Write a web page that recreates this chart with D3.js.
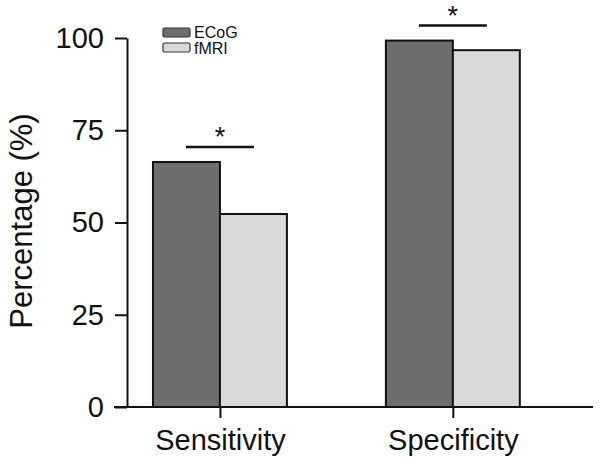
<!DOCTYPE html>
<html><head><meta charset="utf-8">
<script src="https://cdn.jsdelivr.net/npm/d3@7"></script>
<style>body{margin:0;background:#fff}svg{display:block}text{font-family:"Liberation Sans",Arial,sans-serif;fill:#111}</style>
</head><body>
<svg id="c" width="602" height="468"></svg>
<script>
const categories = ["Sensitivity", "Specificity"];
const seriesNames = ["ECoG", "fMRI"];
const ecogValues = [66.4, 99.3];
const fmriValues = [52.3, 96.7];
const yTicks = [0, 25, 50, 75, 100];
const sigMarks = ["*", "*"];

const colors = {ECoG: "#6e6e6e", fMRI: "#d9d9d9"};
const svg = d3.select("#c");

const y = d3.scaleLinear().domain([0, 100]).range([407, 38]);
const x0 = d3.scaleBand().domain(categories).range([106.4, 566.4]).paddingInner(0.425).paddingOuter(0.2);
const x1 = d3.scaleBand().domain(seriesNames).range([0, x0.bandwidth()]);

const data = categories.map((c, i) => ({cat: c, vals: [{s: "ECoG", v: ecogValues[i]}, {s: "fMRI", v: fmriValues[i]}]}));

// bars
const g = svg.append("g");
data.forEach(d => {
  g.selectAll(null).data(d.vals).enter().append("rect")
    .attr("x", e => x0(d.cat) + x1(e.s))
    .attr("y", e => y(e.v))
    .attr("width", x1.bandwidth())
    .attr("height", e => y(0) - y(e.v))
    .attr("fill", e => colors[e.s])
    .attr("stroke", "#111").attr("stroke-width", 2);
});

// y axis
const yAxis = d3.axisLeft(y).tickValues(yTicks).tickSize(12).tickPadding(11).tickSizeOuter(0);
const ya = svg.append("g").attr("transform", "translate(127,0)").call(yAxis);
ya.select(".domain").attr("stroke", "#111").attr("stroke-width", 2);
ya.selectAll(".tick line").attr("stroke", "#111").attr("stroke-width", 2);
ya.selectAll(".tick text").attr("font-size", 29).attr("fill", "#111").attr("font-family", '"Liberation Sans",Arial,sans-serif');

// x axis
const xAxis = d3.axisBottom(d3.scalePoint().domain(categories).range([x0("Sensitivity") + x0.bandwidth()/2, x0("Specificity") + x0.bandwidth()/2]))
  .tickSize(11).tickPadding(10).tickSizeOuter(0);
const xa = svg.append("g").attr("transform", "translate(0,407)").call(xAxis);
xa.select(".domain").attr("d", "M114,0H593").attr("stroke", "#111").attr("stroke-width", 2);
xa.selectAll(".tick line").attr("stroke", "#111").attr("stroke-width", 2);
xa.selectAll(".tick text").attr("font-size", 29).attr("fill", "#111").attr("dy", "0.75em").attr("font-family", '"Liberation Sans",Arial,sans-serif');

// y label
svg.append("text").attr("transform", "translate(32,221) rotate(-90)")
  .attr("text-anchor", "middle").attr("font-size", 31).text("Percentage (%)");

// significance
data.forEach((d, i) => {
  const cx = x0(d.cat) + x0.bandwidth()/2;
  const top = y(Math.max(ecogValues[i], fmriValues[i]));
  svg.append("line").attr("x1", cx - 34).attr("x2", cx + 34)
    .attr("y1", top - 15).attr("y2", top - 15).attr("stroke", "#111").attr("stroke-width", 2.5);
  svg.append("text").attr("x", cx).attr("y", top - 16).attr("text-anchor", "middle")
    .attr("font-size", 27).text(sigMarks[i]);
});

// legend
const leg = svg.append("g").attr("transform", "translate(163,28)");
seriesNames.forEach((s, i) => {
  leg.append("rect").attr("x", 0).attr("y", i * 15).attr("width", 27).attr("height", 9)
    .attr("rx", 1.5).attr("fill", colors[s]).attr("stroke", "#333").attr("stroke-width", 1.2);
  leg.append("text").attr("x", 31).attr("y", i * 15.5 + 10).attr("font-size", 16).text(s);
});
</script>
</body></html>
